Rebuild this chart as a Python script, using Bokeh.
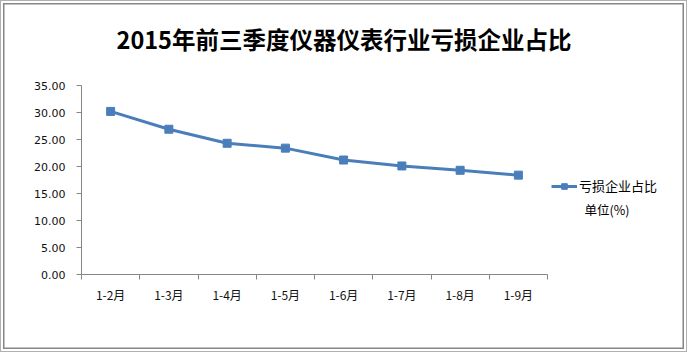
import numpy as np
from bokeh.plotting import figure
from bokeh.models import (Range1d, FixedTicker, NumeralTickFormatter, Legend, LegendItem,
                          Label, ColumnDataSource)
from bokeh.embed import file_html
from bokeh.resources import INLINE

title_text = "2015年前三季度仪器仪表行业亏损企业占比"
categories = ["1-2月", "1-3月", "1-4月", "1-5月", "1-6月", "1-7月", "1-8月", "1-9月"]
loss_share = [30.2, 26.9, 24.3, 23.4, 21.2, 20.1, 19.3, 18.4]
series_name = "亏损企业占比"
unit_text = "单位(%)"
y_ticks = [0, 5, 10, 15, 20, 25, 30, 35]

BLUE = "#4A7EBB"
GRAY = "#868686"
CJK = "Noto Sans CJK SC"

W, H = 687, 352
LEFT, BOTTOM = 81, 78          # side panels for the two axes
n = len(categories)
y_max = y_ticks[-1]
px_x = 466.0 / n                # pixels per category
px_y = (H - BOTTOM - 85) / y_max

xpos = np.arange(n) + 0.5
src = ColumnDataSource(dict(x=xpos, y=loss_share, cat=categories))

# the frame spans the whole area right of / above the axes; axis lines are bounded
p = figure(width=W, height=H, output_backend="svg", toolbar_location=None,
           x_range=Range1d(0, (W - LEFT) / px_x), y_range=Range1d(0, (H - BOTTOM) / px_y),
           min_border_left=LEFT, min_border_right=0, min_border_top=0, min_border_bottom=BOTTOM)
p.outline_line_color = None
p.xgrid.visible = False
p.ygrid.visible = False
p.background_fill_alpha = 0
p.border_fill_alpha = 0
p.styles = {
    "background-color": "white",
    "box-shadow": "inset 0 0 0 1px #b0b0b0, inset 0 0 0 3px white, inset 0 0 0 4.5px #868686",
}

# y axis
ya = p.yaxis[0]
ya.bounds = (0, y_max)
ya.ticker = FixedTicker(ticks=y_ticks, minor_ticks=[])
ya.formatter = NumeralTickFormatter(format="0.00")
ya.axis_line_color = GRAY
ya.major_tick_line_color = GRAY
ya.major_tick_in = 0
ya.major_tick_out = 5
ya.minor_tick_line_color = None
ya.major_label_text_font = "DejaVu Sans"
ya.major_label_text_font_size = "11px"
ya.major_label_text_color = "#111111"
ya.major_label_standoff = 11

# x axis: labels at category centres, tick marks at category boundaries
xa = p.xaxis[0]
xa.bounds = (0, n)
xa.ticker = FixedTicker(ticks=list(xpos), minor_ticks=list(np.arange(n + 1)))
xa.major_label_overrides = {float(x): c for x, c in zip(xpos, categories)}
xa.axis_line_color = GRAY
xa.major_tick_line_color = None
xa.minor_tick_line_color = GRAY
xa.minor_tick_in = 0
xa.minor_tick_out = 5
xa.major_label_text_font = CJK
xa.major_label_text_font_size = "12px"
xa.major_label_text_color = "#111111"
xa.major_label_standoff = 5

line = p.line("x", "y", source=src, line_color=BLUE, line_width=3)
pts = p.scatter("x", "y", source=src, marker="square", size=8, fill_color=BLUE, line_color=BLUE)

legend = Legend(items=[LegendItem(label=series_name, renderers=[line, pts])],
                location=(470, 79), padding=0, margin=0, spacing=0,
                glyph_width=26, glyph_height=14, label_height=14, label_standoff=2,
                label_text_font=CJK, label_text_font_size="13px", label_text_color="#000000",
                border_line_color=None, background_fill_alpha=0)
p.add_layout(legend, "center")

p.add_layout(Label(x=(584 - LEFT) / px_x, y=(H - BOTTOM - 209) / px_y, text=unit_text,
                   text_font=CJK, text_font_size="12.5px", text_baseline="middle",
                   text_color="#000000"))

# chart title
p.add_layout(Label(x=(W / 2 - LEFT) / px_x, y=(H - BOTTOM - 38.5) / px_y, text=title_text,
                   text_font=CJK, text_font_size="23.5px", text_font_style="bold",
                   text_align="center", text_baseline="middle", text_color="#000000"))

open("out.html", "w").write(file_html(p, INLINE))
